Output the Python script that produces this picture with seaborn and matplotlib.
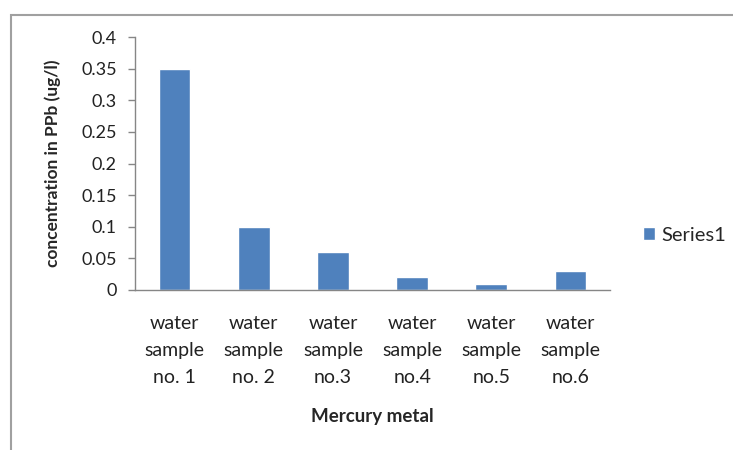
import numpy as np
import pandas as pd
import seaborn as sns
import matplotlib.pyplot as plt
from matplotlib.patches import Rectangle

# values
samples = ["water\nsample\nno. 1", "water\nsample\nno. 2", "water\nsample\nno.3",
           "water\nsample\nno.4", "water\nsample\nno.5", "water\nsample\nno.6"]
mercury = [0.35, 0.10, 0.06, 0.02, 0.01, 0.03]
y_ticks = [0, 0.05, 0.1, 0.15, 0.2, 0.25, 0.3, 0.35, 0.4]
y_tick_labels = ["0", "0.05", "0.1", "0.15", "0.2", "0.25", "0.3", "0.35", "0.4"]

df = pd.DataFrame({"sample": samples, "value": mercury})

sns.set_style("white")
plt.rcParams["font.family"] = ["Lato", "DejaVu Sans"]

fig = plt.figure(figsize=(7.33, 4.5), dpi=100)
ax = fig.add_axes([135 / 733, 1 - 290 / 450, 475 / 733, 253 / 450])

sns.barplot(data=df, x="sample", y="value", color="#4f81bd", width=0.4,
            saturation=1, ax=ax, label="Series1")

ax.set_xlim(-0.5, len(samples) - 0.5)
ax.set_ylim(0, 0.4)
ax.set_yticks(y_ticks)
ax.set_yticklabels(y_tick_labels, fontsize=13, color="#222222")

# category labels centred, tick marks between categories
ax.set_xticks(np.arange(len(samples)))
ax.set_xticklabels(samples, fontsize=14, linespacing=1.72, color="#222222")
ax.set_xticks(np.arange(len(samples) + 1) - 0.5, minor=True)
ax.tick_params(axis="x", which="major", length=0, pad=18)
ax.tick_params(axis="x", which="minor", length=4.5, width=1, color="#868686", direction="out")
ax.tick_params(axis="y", length=5, width=1, color="#868686", direction="out", pad=8, left=True)

for side in ["top", "right"]:
    ax.spines[side].set_visible(False)
for side in ["left", "bottom"]:
    ax.spines[side].set_color("#868686")
    ax.spines[side].set_linewidth(1)

ax.set_xlabel("Mercury metal", fontsize=13.5, fontweight="bold", labelpad=16)
ax.set_ylabel("concentration in PPb (ug/l)", fontsize=12.5, fontweight="bold")
ax.yaxis.set_label_coords(-0.155, 0.5)

ax.legend(loc="center left", bbox_to_anchor=(1.069, 0.217), frameon=False,
          fontsize=14.5, handlelength=0.6, handleheight=0.6, handletextpad=0.3,
          borderpad=0, borderaxespad=0)

# chart area border (cropped at right and bottom in the reference)
fig.patches.append(Rectangle((10.5 / 733, -0.1), 1.2, 1 - 14.5 / 450 + 0.1,
                             transform=fig.transFigure, fill=False,
                             edgecolor="#a0a0a0", linewidth=1.5, clip_on=False))

fig.savefig("out.png", dpi=100)
